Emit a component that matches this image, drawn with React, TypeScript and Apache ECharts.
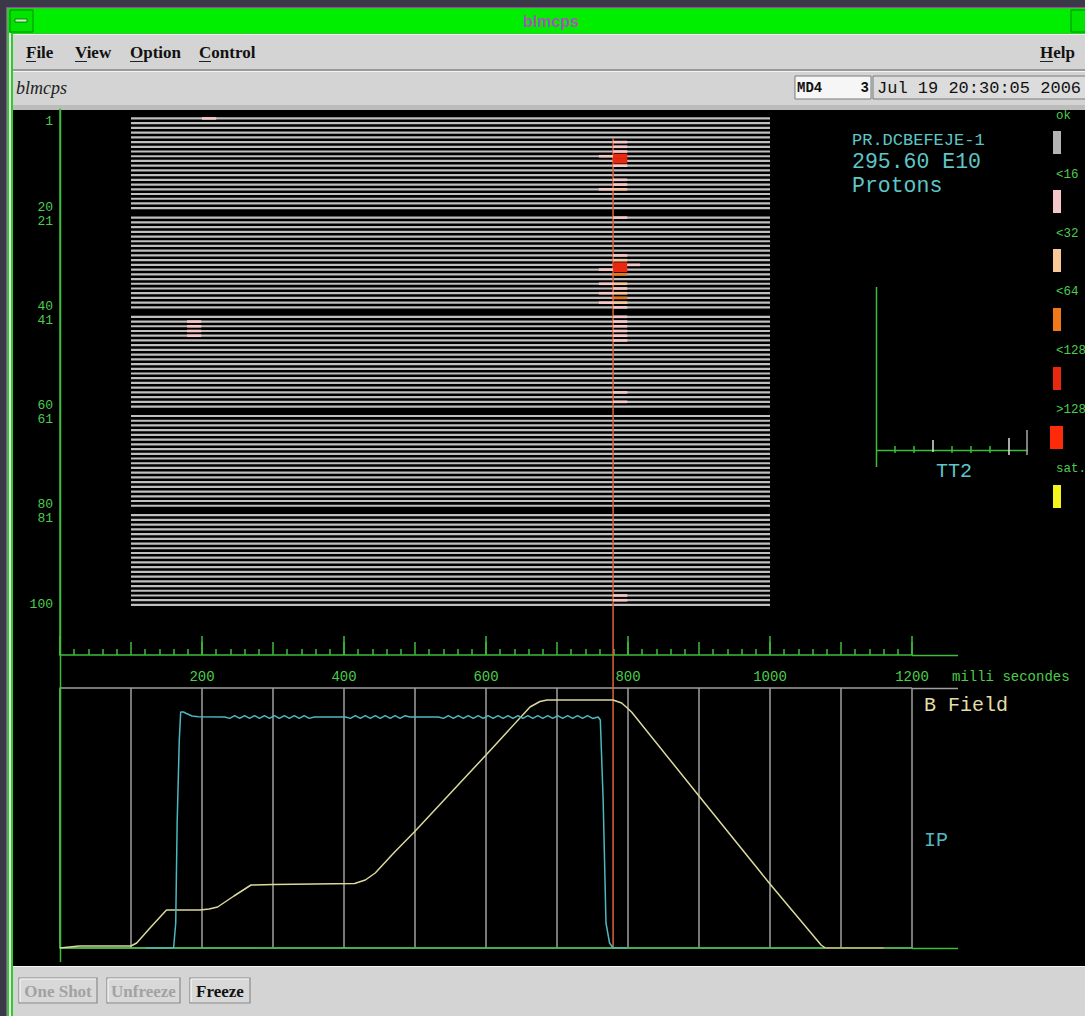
import React, { useEffect, useRef } from "react";
import * as echarts from "echarts";

// ---------------- data ----------------
const channels: number[] = Array.from({ length: 100 }, (_, i) => i + 1);
const channelsPerGroup = 20;
const labelledChannels = [1, 20, 21, 40, 41, 60, 61, 80, 81, 100];
const shiftedDownLabels = [1, 21, 41, 61, 81];
const shiftedUpLabels = [20, 40, 60, 80];
const channelLineStart = 100; // ms
const channelLineEnd = 1000; // ms
const timeMax = 1200;
const timeTickLabels = [200, 400, 600, 800, 1000, 1200];
const cursorTime = 779;

// [channel, t start (ms), t end (ms), level]
const lossMarks: [number, number, number, number][] = [
  [1, 200, 220, 1],
  [6, 779, 799, 1], [7, 779, 799, 1], [8, 779, 799, 1],
  [9, 759, 779, 1], [9, 779, 799, 4], [10, 779, 799, 4],
  [11, 779, 799, 1],
  [14, 779, 799, 1], [15, 779, 799, 1],
  [16, 759, 779, 1], [16, 779, 799, 2],
  [21, 779, 799, 1],
  [29, 779, 799, 1], [30, 779, 799, 2],
  [31, 779, 799, 4], [31, 799, 817, 1],
  [32, 759, 779, 1], [32, 779, 799, 4],
  [33, 779, 799, 3],
  [35, 759, 779, 1], [35, 779, 799, 2],
  [36, 779, 799, 1],
  [37, 759, 779, 1], [37, 779, 799, 2],
  [38, 779, 799, 3],
  [39, 759, 779, 1], [39, 779, 799, 2],
  [40, 779, 799, 1],
  [41, 779, 799, 1], [42, 779, 799, 1], [43, 779, 799, 1], [44, 779, 799, 1], [45, 779, 799, 1], [46, 779, 799, 1],
  [42, 179, 199, 1], [43, 179, 199, 1], [44, 179, 199, 1], [45, 179, 199, 1],
  [57, 779, 799, 1], [59, 779, 799, 1],
  [98, 779, 799, 1], [99, 779, 799, 1],
];

const bField: [number, number][] = [
  [0, 0], [27, 2], [100, 2], [108, 5], [128, 21], [150, 38], [197, 38], [210, 39], [222, 41],
  [245, 52], [269, 63], [300, 63.5], [415, 64.5], [430, 68], [444, 75], [470, 95], [499, 116],
  [600, 193], [662, 241], [676, 246.5], [686, 248], [779, 248], [791, 245], [799, 240], [805, 236],
  [900, 152], [1000, 64], [1072, 3], [1078, 0],
];
const bFieldTail: [number, number][] = [[1078, 0], [1160, 0]];

const ip: [number, number][] = [
  [121, 0], [160, 0], [163, 25], [165, 125], [168, 208], [170, 236], [174, 236], [178, 234.5], [186, 232], [195, 231.3], [232, 231],
  [239, 229.6], [246, 232.3], [253, 229.6], [260, 232.3], [267, 229.6], [274, 232.3], [281, 229.6], [288, 232.3], [295, 229.6],
  [302, 232.3], [309, 229.6], [316, 232.3], [323, 229.6], [330, 232.3], [337, 229.6], [344, 232.3], [351, 229.6], [358, 231],
  [402, 231], [409, 229.6], [416, 232.3], [423, 229.6], [430, 232.3], [437, 229.6], [444, 232.3], [451, 229.6], [458, 232.3],
  [465, 229.6], [472, 232.3], [479, 229.6], [486, 232.3], [493, 231],
  [533, 231], [540, 229.6], [547, 232.3], [554, 229.6], [561, 232.3], [568, 229.6], [575, 232.3], [582, 229.6], [589, 232.3],
  [596, 229.6], [603, 232.3], [610, 229.6], [617, 232.3], [624, 229.6], [631, 232.3], [638, 229.6], [645, 232.3], [652, 229.6],
  [659, 232.3], [666, 229.6], [673, 232.3], [680, 229.6], [687, 232.3], [694, 229.6], [701, 232.3], [708, 229.6], [715, 232.3],
  [722, 229.6], [729, 232.3], [736, 229.6], [743, 232.3], [750, 229.6], [758, 231],
  [761, 228], [765, 148], [769, 25], [774, 5], [779, 0], [799, 0],
];

const levelLegend = [
  { label: "ok", color: "#b4b4b4" },
  { label: "<16", color: "#f8c8c8" },
  { label: "<32", color: "#f8c898" },
  { label: "<64", color: "#f07818" },
  { label: "<128", color: "#e82810" },
  { label: ">128", color: "#ff2a0a" },
  { label: "sat.", color: "#f4f41c" },
];

const beamInfo = ["PR.DCBEFEJE-1", "295.60 E10", "Protons"];
const menuItems = ["File", "View", "Option", "Control"];

// ---------------- styles ----------------
const GREEN = "#3dbd3d";
const GREEN_TXT = "#4ccc4c";
const CYAN = "#5ec6c6";
const MONO = '"Liberation Mono", "DejaVu Sans Mono", monospace';
const SERIF = '"Liberation Serif", "DejaVu Serif", serif';
const SANS = '"Liberation Sans", "DejaVu Sans", sans-serif';

const chPos = (ch: number) => ch - 1 + Math.floor((ch - 1) / channelsPerGroup);

function rect(x: number, y: number, w: number, h: number, fill: string, z = -10, stroke?: string, lw = 1) {
  return {
    type: "rect",
    z,
    shape: { x, y, width: w, height: h },
    style: stroke ? { fill, stroke, lineWidth: lw } : { fill },
    silent: true,
  };
}
function line(x1: number, y1: number, x2: number, y2: number, stroke: string, lw = 1.5, z = 5) {
  return { type: "line", z, shape: { x1, y1, x2, y2 }, style: { stroke, lineWidth: lw }, silent: true };
}
function text(x: number, y: number, t: string, fill: string, font: string, align = "left", z = 10, extra: any = {}) {
  return {
    type: "text",
    z,
    x,
    y,
    silent: true,
    style: {
      text: t,
      fill,
      font,
      textAlign: align,
      align,
      textVerticalAlign: "middle",
      verticalAlign: "middle",
      ...extra,
    },
  };
}

function buildGraphic() {
  const g: any[] = [];
  // window chrome
  g.push(rect(0, 0, 1085, 1016, "#3b3947", -20));
  g.push(rect(6, 7, 1079, 1009, "#9c4a9c", -19));
  g.push(rect(7, 8, 1078, 1008, "#2ccc2c", -18));
  g.push(rect(9, 9, 1076, 24, "#00ee00", -17));
  g.push(rect(10, 10, 23, 22, "#00e400", -16, "#008a00", 1));
  g.push(rect(15, 19, 12, 3, "#c8f4c8", -15, "#006a00", 0.8));
  g.push(rect(1071, 10, 23, 22, "#00e400", -16, "#008a00", 1));
  g.push(text(551, 21, "blmcps", "#a458b4", `bold 16px ${SANS}`, "center"));
  g.push(rect(9, 33, 2, 983, "#e8f8e8", -17));
  // menu bar
  g.push(rect(13, 34, 1072, 35, "#d4d4d4", -16));
  g.push(rect(13, 34, 1072, 1, "#f2f2f2", -15));
  g.push(rect(13, 69, 1072, 2, "#9a9a9a", -15));
  g.push(rect(13, 71, 1072, 1, "#f4f4f4", -15));
  const menuX = [26, 75, 130, 199];
  const underW = [10, 12, 13, 12];
  menuItems.forEach((m, i) => {
    g.push(text(menuX[i], 52, m, "#111", `bold 17px ${SERIF}`));
    g.push(line(menuX[i], 61.5, menuX[i] + underW[i], 61.5, "#222", 1));
  });
  g.push(text(1040, 52, "Help", "#111", `bold 17px ${SERIF}`));
  g.push(line(1040, 61.5, 1053, 61.5, "#222", 1));
  // second bar
  g.push(rect(13, 72, 1072, 33, "#d4d4d4", -16));
  g.push(text(16, 88, "blmcps", "#222", `italic 18px ${SERIF}`));
  g.push(rect(795, 76, 76, 23, "#f6f6f6", -14, "#7a7a7a", 1));
  g.push(text(797, 88, "MD4", "#111", `bold 14px ${MONO}`));
  g.push(text(869, 88, "3", "#111", `bold 14px ${MONO}`, "right"));
  g.push(rect(873, 76, 215, 23, "#dcdcdc", -14, "#7a7a7a", 1));
  g.push(text(877, 88, "Jul 19 20:30:05 2006", "#111", `17px ${MONO}`));
  g.push(rect(13, 105, 1072, 5, "#bcbcbc", -16));
  // black display area
  g.push(rect(13, 110, 1072, 856, "#000000", -16));
  // bottom panel
  g.push(rect(13, 966, 1072, 50, "#d4d4d4", -16));
  g.push(rect(13, 966, 1072, 1, "#f2f2f2", -15));
  const buttons = [
    { x: 19, w: 78, t: "One Shot", on: false },
    { x: 107, w: 73, t: "Unfreeze", on: false },
    { x: 190, w: 60, t: "Freeze", on: true },
  ];
  buttons.forEach((b) => {
    g.push(rect(b.x, 978, b.w, 25, "#d8d8d8", -14, "#8a8a8a", 1.2));
    g.push(line(b.x + 1, 979, b.x + b.w - 1, 979, "#f8f8f8", 1.2, -13));
    g.push(line(b.x + 1, 979, b.x + 1, 1002, "#f8f8f8", 1.2, -13));
    g.push(
      text(b.x + b.w / 2, 991, b.t, b.on ? "#111" : "#a2a2a2", `bold 17px ${SERIF}`, "center", 10,
        b.on ? {} : { textShadowColor: "#f6f6f6", textShadowOffsetX: 1, textShadowOffsetY: 1, textShadowBlur: 0 })
    );
  });

  // axis extensions and frame lines inside the display
  g.push(line(60.5, 109, 60.5, 962, GREEN, 1.5, 4));
  g.push(line(912, 655.5, 958, 655.5, GREEN, 1.5, 4));
  g.push(line(912, 948.5, 958, 948.5, GREEN, 1.5, 4));
  g.push(line(912, 688.5, 958, 688.5, "#a0a0a0", 1.5, 3));
  g.push(text(952, 677, "milli secondes", GREEN_TXT, `14px ${MONO}`));
  g.push(text(924, 705, "B Field", "#e2dea6", `20px ${MONO}`));
  g.push(text(924, 840, "IP", "#50b8c0", `20px ${MONO}`));

  // beam info
  g.push(text(852, 140, beamInfo[0], CYAN, `17px ${MONO}`));
  g.push(text(852, 162, beamInfo[1], CYAN, `21.5px ${MONO}`));
  g.push(text(852, 186, beamInfo[2], CYAN, `21.5px ${MONO}`));

  // TT2 small axis
  g.push(line(876.5, 287, 876.5, 467, GREEN, 1.5, 4));
  g.push(line(876, 450.5, 1028, 450.5, GREEN, 1.5, 4));
  [895, 914, 952, 971, 990].forEach((x) => g.push(line(x, 446, x, 453, GREEN, 1.5, 4)));
  g.push(line(933, 440, 933, 452, "#e0e0e0", 1.5, 4));
  g.push(line(1009, 438, 1009, 455, "#e0e0e0", 1.5, 4));
  g.push(line(1027, 430, 1027, 455, "#a8a8a8", 1.5, 4));
  g.push(text(954, 471, "TT2", CYAN, `20px ${MONO}`, "center"));

  // level legend
  levelLegend.forEach((l, i) => {
    g.push(text(1056, 116 + i * 58.8, l.label, GREEN_TXT, `12.5px ${MONO}`));
    const wide = l.label === ">128";
    g.push(rect(wide ? 1050 : 1053, 131 + i * 59, wide ? 13 : 8, 23, l.color, 6));
  });
  return g;
}

function buildOption(): any {
  const posToChannel: Record<number, number> = {};
  labelledChannels.forEach((c) => (posToChannel[chPos(c)] = c));

  const channelData = channels.map((c) => [channelLineStart, chPos(c), channelLineEnd, c]);
  const markData = lossMarks.map(([c, t0, t1, lvl]) => [t0, chPos(c), t1, lvl]);

  return {
    animation: false,
    backgroundColor: "transparent",
    graphic: { elements: buildGraphic() },
    grid: [
      { left: 60, top: 109, width: 852, height: 546, containLabel: false, outerBoundsMode: "none" },
      { left: 60, top: 688, width: 852, height: 260, containLabel: false, outerBoundsMode: "none" },
      { left: 60, top: 109, width: 852, height: 839, containLabel: false, outerBoundsMode: "none" },
    ],
    xAxis: [
      {
        gridIndex: 0, type: "value", min: 0, max: timeMax, interval: 200, position: "bottom",
        axisLine: { show: true, onZero: false, lineStyle: { color: GREEN, width: 1.5 } },
        axisTick: { show: true, inside: true, length: 19, lineStyle: { color: GREEN, width: 1.5 } },
        axisLabel: {
          color: GREEN_TXT, fontFamily: MONO, fontSize: 14, margin: 15,
          formatter: (v: number) => (timeTickLabels.includes(Math.round(v)) ? String(Math.round(v)) : ""),
        },
        splitLine: { show: false },
      },
      {
        gridIndex: 0, type: "value", min: 0, max: timeMax, interval: 100, position: "bottom", offset: 0,
        axisLine: { show: false, onZero: false },
        axisTick: { show: true, inside: true, length: 13, lineStyle: { color: GREEN, width: 1.5 } },
        minorTick: { show: true, splitNumber: 5, length: 6, lineStyle: { color: GREEN, width: 1.5 } },
        axisLabel: { show: false },
        splitLine: { show: false },
      },
      {
        gridIndex: 1, type: "value", min: 0, max: timeMax, interval: 100, position: "bottom",
        axisLine: { show: true, onZero: false, lineStyle: { color: GREEN, width: 1.5 } },
        axisTick: { show: false },
        axisLabel: { show: false },
        splitLine: { show: true, lineStyle: { color: "#a0a0a0", width: 1.5 } },
      },
      { gridIndex: 2, type: "value", min: 0, max: timeMax, show: false },
    ],
    yAxis: [
      {
        gridIndex: 0, type: "value", inverse: true, min: -2, max: 113.6, interval: 1,
        axisLine: { show: true, onZero: false, lineStyle: { color: GREEN, width: 1.5 } },
        axisTick: { show: false },
        splitLine: { show: false },
        axisLabel: {
          color: GREEN_TXT, fontFamily: MONO, fontSize: 13, lineHeight: 12, margin: 7,
          formatter: (v: number) => {
            const c = posToChannel[Math.round(v)];
            if (c == null || Math.abs(v - Math.round(v)) > 1e-6) return "";
            if (shiftedDownLabels.includes(c)) return `{d|${c}}`;
            if (shiftedUpLabels.includes(c)) return `{u|${c}}`;
            return String(c);
          },
          rich: {
            d: { color: GREEN_TXT, fontFamily: MONO, fontSize: 13, lineHeight: 12, padding: [7, 0, 0, 0] },
            u: { color: GREEN_TXT, fontFamily: MONO, fontSize: 13, lineHeight: 12, padding: [0, 0, 2, 0] },
          },
        },
      },
      {
        gridIndex: 1, type: "value", min: 0, max: 260, interval: 260,
        axisLine: { show: true, onZero: false, lineStyle: { color: GREEN, width: 1.5 } },
        axisTick: { show: false },
        axisLabel: { show: false },
        splitLine: { show: true, lineStyle: { color: "#a0a0a0", width: 1.5 } },
      },
      { gridIndex: 2, type: "value", min: 0, max: 1, show: false },
    ],
    series: [
      {
        type: "custom", name: "channels", xAxisIndex: 0, yAxisIndex: 0, silent: true,
        encode: { x: [0, 2], y: 1 },
        data: channelData,
        renderItem: (_p: any, api: any) => {
          const a = api.coord([api.value(0), api.value(1)]);
          const b = api.coord([api.value(2), api.value(1)]);
          return { type: "rect", shape: { x: a[0], y: a[1] - 1.1, width: b[0] - a[0], height: 2.2 }, style: { fill: "#c0c0c0" } };
        },
        z: 2,
      },
      {
        type: "line", name: "cursor", xAxisIndex: 3, yAxisIndex: 2, silent: true,
        data: [[cursorTime, 0], [cursorTime, 0.9654]],
        showSymbol: false, symbol: "none",
        lineStyle: { color: "#e0603a", width: 1.5 },
        z: 3,
      },
      {
        type: "custom", name: "losses", xAxisIndex: 0, yAxisIndex: 0, silent: true,
        encode: { x: [0, 2], y: 1 },
        data: markData,
        renderItem: (_p: any, api: any) => {
          const lvl = api.value(3);
          const a = api.coord([api.value(0), api.value(1)]);
          const b = api.coord([api.value(2), api.value(1)]);
          const row = api.size([0, 1])[1];
          const h = lvl >= 4 ? row + 0.4 : 2.6;
          return {
            type: "rect",
            shape: { x: a[0], y: a[1] - h / 2, width: b[0] - a[0], height: h },
            style: { fill: levelLegend[lvl].color },
          };
        },
        z: 4,
      },
      {
        type: "line", name: "B Field", xAxisIndex: 2, yAxisIndex: 1, silent: true,
        data: bField, showSymbol: false, symbol: "none",
        lineStyle: { color: "#dcd89c", width: 1.5 }, z: 5,
      },
      {
        type: "line", name: "B Field tail", xAxisIndex: 2, yAxisIndex: 1, silent: true,
        data: bFieldTail, showSymbol: false, symbol: "none",
        lineStyle: { color: "#d4ae78", width: 1.5 }, z: 5,
      },
      {
        type: "line", name: "IP", xAxisIndex: 2, yAxisIndex: 1, silent: true,
        data: ip, showSymbol: false, symbol: "none",
        lineStyle: { color: "#4cb8c2", width: 1.5 }, z: 6,
      },
    ],
  };
}

export default function App() {
  const ref = useRef<HTMLDivElement>(null);
  useEffect(() => {
    if (!ref.current) return;
    const chart = echarts.init(ref.current, null, { renderer: "svg", width: 1085, height: 1016 });
    chart.setOption(buildOption());
    return () => chart.dispose();
  }, []);
  return (
    <div
      ref={ref}
      style={{ position: "fixed", left: 0, top: 0, width: 1085, height: 1016, background: "#3b3947" }}
    />
  );
}
